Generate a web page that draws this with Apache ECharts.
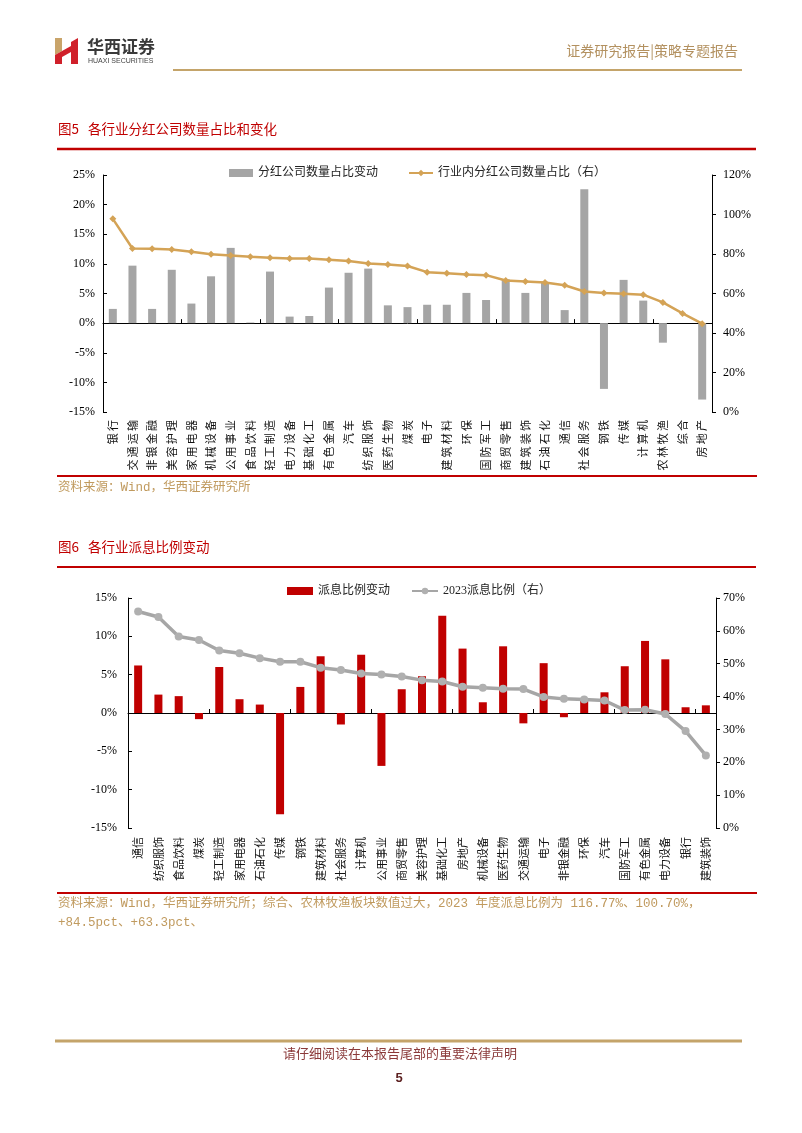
<!DOCTYPE html>
<html>
<head>
<meta charset="utf-8">
<script src="https://cdn.jsdelivr.net/npm/echarts@6/dist/echarts.min.js"></script>
<style>
html,body{margin:0;padding:0;background:#fff;}
#main{width:802px;height:1133px;}
</style>
</head>
<body>
<div id="main"></div>
<script>
// ---------- Figure 5 data ----------
const cat1 = ['银行','交通运输','非银金融','美容护理','家用电器','机械设备','公用事业','食品饮料','轻工制造','电力设备','基础化工','有色金属','汽车','纺织服饰','医药生物','煤炭','电子','建筑材料','环保','国防军工','商贸零售','建筑装饰','石油石化','通信','社会服务','钢铁','传媒','计算机','农林牧渔','综合','房地产'];
const chg1 = [2.4,9.7,2.4,9.0,3.3,7.9,12.7,0.1,8.7,1.1,1.2,6.0,8.5,9.2,3.0,2.7,3.1,3.1,5.1,3.9,7.4,5.1,6.8,2.2,22.6,-11.1,7.3,3.8,-3.3,0,-12.9];
const ratio1 = [97.8,82.8,82.6,82.3,81.1,79.9,79.3,78.6,78.1,77.7,77.7,77.1,76.4,75.2,74.7,73.9,70.8,70.3,69.6,69.3,66.6,66.1,65.6,64.2,61.0,60.2,59.9,59.4,55.5,49.9,44.7];
const name1Bar = '分红公司数量占比变动';
const name1Line = '行业内分红公司数量占比（右）';

// ---------- Figure 6 data ----------
const cat2 = ['通信','纺织服饰','食品饮料','煤炭','轻工制造','家用电器','石油石化','传媒','钢铁','建筑材料','社会服务','计算机','公用事业','商贸零售','美容护理','基础化工','房地产','机械设备','医药生物','交通运输','电子','非银金融','环保','汽车','国防军工','有色金属','电力设备','银行','建筑装饰'];
const chg2 = [6.2,2.4,2.2,-0.8,6.0,1.8,1.1,-13.2,3.4,7.4,-1.5,7.6,-6.9,3.1,4.8,12.7,8.4,1.4,8.7,-1.35,6.5,-0.55,1.6,2.7,6.1,9.4,7.0,0.75,1.0];
const ratio2 = [65.9,64.2,58.3,57.2,54.0,53.2,51.7,50.6,50.6,48.8,48.1,47.0,46.7,46.1,45.0,44.6,43.0,42.7,42.4,42.3,39.9,39.3,39.1,38.8,35.9,36.0,34.7,29.5,22.1];
const name2Bar = '派息比例变动';
const name2Line = '2023派息比例（右）';

const CJK = "'Noto Sans CJK SC'";
const SERIF = "'Liberation Serif','Noto Sans CJK SC'";
const GOLD = '#c4a46a';
const RED = '#c00000';
const SRC = '#c09a5e';

const chart = echarts.init(document.getElementById('main'), null, {renderer:'canvas'});

function labelAxis(grid, data, margin, spaced){
  return {type:'category', gridIndex:grid, data:data, position:'bottom',
    axisLine:{show:false,onZero:false}, axisTick:{show:false},
    axisLabel:{interval:0, rotate:90, fontSize:11, color:'#111', fontFamily:CJK, margin:margin,
      formatter: v => spaced ? v.split('').join('\u2009') : v}};
}
function zeroAxis(grid, data, yIdx){
  return {type:'category', gridIndex:grid, data:data, position:'bottom',
    axisLine:{show:true,onZero:true,onZeroAxisIndex:yIdx,lineStyle:{color:'#000',width:1}},
    axisTick:{show:true,inside:true,length:4,lineStyle:{color:'#000'}},
    axisLabel:{show:false}, splitLine:{show:false}};
}
function valAxis(grid, min, max, step, pos, margin){
  return {type:'value', gridIndex:grid, min:min, max:max, interval:step, position:pos,
    axisLine:{show:true,lineStyle:{color:'#000',width:1}},
    axisTick:{show:true,inside:pos==='left',length:4,lineStyle:{color:'#000'}},
    splitLine:{show:false},
    axisLabel:{formatter:'{value}%', fontFamily:SERIF, fontSize:12, color:'#000', margin:margin}};
}

const option = {
  animation:false,
  backgroundColor:'#fff',
  grid:[
    {left:103, top:175, width:609, height:237},
    {left:128, top:598, width:588, height:230}
  ],
  legend:[
    {data:[{name:name1Bar,icon:'rect'},{name:name1Line}], left:224, top:162, itemWidth:24, itemHeight:8, itemGap:30,
     textStyle:{fontSize:12,color:'#222',fontFamily:SERIF}},
    {data:[{name:name2Bar,icon:'rect'},{name:name2Line}], left:282, top:580, itemWidth:26, itemHeight:8, itemGap:21,
     textStyle:{fontSize:12,color:'#222',fontFamily:SERIF}}
  ],
  xAxis:[
    labelAxis(0, cat1, 8, true),
    zeroAxis(0, cat1, 0),
    labelAxis(1, cat2, 9, false),
    zeroAxis(1, cat2, 2)
  ],
  yAxis:[
    valAxis(0, -15, 25, 5, 'left', 8),
    valAxis(0, 0, 120, 20, 'right', 11),
    valAxis(1, -15, 15, 5, 'left', 11),
    valAxis(1, 0, 70, 10, 'right', 7)
  ],
  series:[
    {name:name1Bar, type:'bar', xAxisIndex:0, yAxisIndex:0, data:chg1, barWidth:8, itemStyle:{color:'#a5a5a5'}, z:2},
    {name:name1Line, type:'line', xAxisIndex:0, yAxisIndex:1, data:ratio1, symbol:'diamond', symbolSize:7,
     lineStyle:{color:'#d4a356',width:2.5}, itemStyle:{color:'#d4a356'}, z:3},
    {name:name2Bar, type:'bar', xAxisIndex:2, yAxisIndex:2, data:chg2, barWidth:8, itemStyle:{color:RED}, z:2},
    {name:name2Line, type:'line', xAxisIndex:2, yAxisIndex:3, data:ratio2, symbol:'circle', symbolSize:8,
     lineStyle:{color:'#a6a6a6',width:3.5}, itemStyle:{color:'#b0b0b0'}, z:3}
  ],
  graphic:[
    // logo
    {type:'polygon', shape:{points:[[55,38],[62,38],[62,51],[55,55]]}, style:{fill:'#c9a46a'}},
    {type:'polygon', shape:{points:[[55,55],[62,51],[62,64],[55,64]]}, style:{fill:'#d0202a'}},
    {type:'polygon', shape:{points:[[62,51],[71,46],[71,52],[62,57]]}, style:{fill:'#d0202a'}},
    {type:'polygon', shape:{points:[[71,42],[78,38],[78,64],[71,64]]}, style:{fill:'#d0202a'}},
    {type:'text', left:87, top:38, style:{text:'华西证券', fontSize:17, fontWeight:'bold', fill:'#3a3a3a', fontFamily:CJK}},
    {type:'text', left:88, top:58, style:{text:'HUAXI SECURITIES', fontSize:7, fill:'#444', fontFamily:"'Liberation Sans'"}},
    {type:'text', right:64, top:44, style:{text:'证券研究报告|策略专题报告', fontSize:14, fill:'#b39160', fontFamily:CJK}},
    {type:'line', shape:{x1:173,y1:70,x2:742,y2:70}, style:{stroke:GOLD,lineWidth:2}},
    // figure 5
    {type:'text', left:58, top:122, style:{text:'图5   各行业分红公司数量占比和变化', fontSize:13.5, fill:RED, fontFamily:CJK}},
    {type:'line', shape:{x1:57,y1:149,x2:756,y2:149}, style:{stroke:RED,lineWidth:2.5}},
    {type:'line', shape:{x1:57,y1:476,x2:757,y2:476}, style:{stroke:RED,lineWidth:2}},
    {type:'text', left:58, top:481, style:{text:'资料来源：Wind，华西证券研究所', fontSize:12.5, fill:SRC, fontFamily:"'Liberation Mono','Noto Sans CJK SC'"}},
    // figure 6
    {type:'text', left:58, top:540, style:{text:'图6   各行业派息比例变动', fontSize:13.5, fill:RED, fontFamily:CJK}},
    {type:'line', shape:{x1:57,y1:567,x2:756,y2:567}, style:{stroke:RED,lineWidth:2}},
    {type:'line', shape:{x1:57,y1:893,x2:757,y2:893}, style:{stroke:RED,lineWidth:2}},
    {type:'text', left:58, top:897, style:{text:'资料来源：Wind，华西证券研究所；综合、农林牧渔板块数值过大，2023 年度派息比例为 116.77%、100.70%，', fontSize:12.5, fill:SRC, fontFamily:"'Liberation Mono','Noto Sans CJK SC'"}},
    {type:'text', left:58, top:916, style:{text:'+84.5pct、+63.3pct、', fontSize:12.5, fill:SRC, fontFamily:"'Liberation Mono','Noto Sans CJK SC'"}},
    // footer
    {type:'line', shape:{x1:55,y1:1041,x2:742,y2:1041}, style:{stroke:GOLD,lineWidth:3}},
    {type:'text', x:400, y:1053, style:{text:'请仔细阅读在本报告尾部的重要法律声明', fontSize:13, fill:'#8b3a3a', fontFamily:CJK, align:'center', verticalAlign:'middle'}},
    {type:'text', x:399, y:1078, style:{text:'5', fontSize:13, fontWeight:'bold', fill:'#5b1f1f', fontFamily:"'Liberation Sans'", align:'center', verticalAlign:'middle'}}
  ]
};
chart.setOption(option);
</script>
</body>
</html>
